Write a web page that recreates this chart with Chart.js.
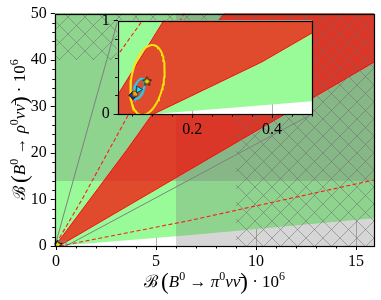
<!DOCTYPE html>
<html><head><meta charset="utf-8">
<script src="https://cdn.jsdelivr.net/npm/chart.js@4.4.1/dist/chart.umd.min.js"></script>
<style>
html,body{margin:0;padding:0;background:#fff;}
#wrap{position:relative;width:381px;height:300px;overflow:hidden;}
#main{position:absolute;left:0;top:0;}
#insetBox{position:absolute;left:95px;top:5px;width:230px;height:135px;}
#inset{position:absolute;left:0;top:0;}
</style></head><body>
<div id="wrap">
<canvas id="main" width="381" height="300"></canvas>
<div id="insetBox"><canvas id="inset" width="230" height="135"></canvas></div>
</div>
<script>
// ---------------- DATA ----------------
const mainXRange = [-0.06, 15.9];
const mainYRange = [0, 50];
const insetXRange = [0.0135, 0.5];
const insetYRange = [0, 1];

const mainXMajorStep = 5, mainYMajorStep = 10;
const insetXMajorStep = 0.2, insetYMajorStep = 1;
const mainXMinor = [1,2,3,4,6,7,8,9,11,12,13,14];
const mainYMinor = [2,4,6,8,12,14,16,18,22,24,26,28,32,34,36,38,42,44,46,48];
const insetXMinor = [0.05,0.1,0.15,0.25,0.3,0.35,0.45,0.5];
const insetYMinor = [0.2,0.4,0.6,0.8];

// experimental upper limits (x 10^6)
const newLimitPi = 6, newLimitRho = 14;   // grey shaded
const oldLimitPi = 9, oldLimitRho = 40;   // hatched

// lower edge of the allowed (green) region
const allowedEdgeX = [-1, 0.105, 0.5, 6.76, 16, 17];
const allowedEdgeY = [0, 0, 0.136, 2.36, 6.0, 6.4];

// red band: upper and lower edges
const bandUpperX = [0, 0.0135, 0.1285, 3.53, 8.40, 8.73];
const bandUpperY = [0.11, 0.204, 1.0, 20.6, 50, 52];
const bandLowerX = [0.1035, 0.194, 0.374, 0.5, 6.76, 16, 17];
const bandLowerY = [0, 0.186, 0.557, 0.868, 16.6, 39.8, 42.3];

// dashed red curves
const dashUpperX = [0, 0.0735, 1.28, 3.6, 6.4, 6.7];
const dashUpperY = [0.55, 0.99, 9.86, 28.1, 50, 52.3];
const dashLowerX = [0.2, 6.7, 16, 17];
const dashLowerY = [0, 5.5, 14.3, 15.25];

// ellipses (centre, half extents, correlation)
const ellipseCX = [0.088, 0.0667];
const ellipseCY = [0.364, 0.271];
const ellipseHX = [0.043, 0.0139];
const ellipseHY = [0.375, 0.108];
const ellipseRho = [0.29, 0.5];
const ellipseColor = ['#fbe50c', '#22cdee'];

// markers
const markerX = [0.052, 0.0575, 0.066, 0.0868];
const markerY = [0.200, 0.218, 0.262, 0.354];

// ---------------- HELPERS ----------------
const zip = (xs, ys) => xs.map((x, i) => ({x, y: ys[i]}));
const TOP = 55, RIGHT = 17, LEFT = -1, BOT = -1;

function ellipsePts(i, n = 90) {
  const pts = []; const s = Math.sqrt(1 - ellipseRho[i] * ellipseRho[i]);
  for (let k = 0; k <= n; k++) {
    const t = 2 * Math.PI * k / n;
    pts.push({x: ellipseCX[i] + ellipseHX[i] * Math.cos(t),
              y: ellipseCY[i] + ellipseHY[i] * (ellipseRho[i] * Math.cos(t) + s * Math.sin(t))});
  }
  return pts;
}

function makeHatch(ctx, p, color) {
  const c = document.createElement('canvas'); c.width = p; c.height = p;
  const g = c.getContext('2d'); g.strokeStyle = color; g.lineWidth = 1;
  g.beginPath(); g.moveTo(0, 0); g.lineTo(p, p); g.moveTo(0, p); g.lineTo(p, 0); g.stroke();
  return ctx.createPattern(c, 'repeat');
}

function makeStar(r, fill) {
  const sz = Math.ceil(2 * r + 3); const c = document.createElement('canvas'); c.width = sz; c.height = sz;
  const g = c.getContext('2d'); const cx = sz / 2, cy = sz / 2 + 0.5;
  g.beginPath();
  for (let k = 0; k < 10; k++) {
    const rr = k % 2 === 0 ? r : r * 0.45; const a = -Math.PI / 2 + k * Math.PI / 5;
    const px = cx + rr * Math.cos(a), py = cy + rr * Math.sin(a);
    k === 0 ? g.moveTo(px, py) : g.lineTo(px, py);
  }
  g.closePath(); g.fillStyle = fill; g.fill(); g.lineWidth = 0.9; g.strokeStyle = '#000'; g.stroke();
  return c;
}

const SERIF = "'Liberation Serif','DejaVu Serif',serif";
function shape(pts, bg, extra) {
  return Object.assign({data: pts, fill: 'shape', backgroundColor: bg, borderColor: 'rgba(0,0,0,0)',
    borderWidth: 0, pointRadius: 0, pointHoverRadius: 0, showLine: true, tension: 0}, extra || {});
}
function lineDs(pts, color, width, dash) {
  return {data: pts, fill: false, borderColor: color, borderWidth: width, borderDash: dash || [],
    pointRadius: 0, pointHoverRadius: 0, showLine: true, tension: 0, backgroundColor: 'rgba(0,0,0,0)'};
}
function markerDs(x, y, style, r, bg, border, rot) {
  return {data: [{x, y}], showLine: false, pointStyle: style, pointRadius: r, pointHoverRadius: r,
    pointRotation: rot || 0, backgroundColor: bg, borderColor: border, pointBorderWidth: 1, borderWidth: 1};
}

function buildLayers(ctx, isMain) {
  const hatch = makeHatch(ctx, 17, 'rgba(105,105,105,0.5)');
  const L = [];
  // allowed region
  L.push(shape(zip(allowedEdgeX, allowedEdgeY).concat([{x: RIGHT, y: TOP}, {x: LEFT, y: TOP}]), '#98fb98'));
  if (isMain) {
    L.push(shape([{x: LEFT, y: newLimitRho}, {x: RIGHT, y: newLimitRho}, {x: RIGHT, y: TOP}, {x: LEFT, y: TOP}], 'rgba(120,120,120,0.3)'));
    L.push(shape([{x: newLimitPi, y: BOT}, {x: RIGHT, y: BOT}, {x: RIGHT, y: TOP}, {x: newLimitPi, y: TOP}], 'rgba(120,120,120,0.3)'));
  }
  // red band
  const band = [{x: bandUpperX[0], y: -0.5}].concat(zip(bandUpperX, bandUpperY), [{x: RIGHT, y: 52}],
    zip(bandLowerX, bandLowerY).reverse(), [{x: bandLowerX[0], y: -0.5}]);
  L.push(shape(band, 'rgba(255,0,0,0.7)', {borderColor: 'rgba(255,0,0,0.9)', borderWidth: 1}));
  if (isMain) {
    L.push(shape([{x: LEFT, y: oldLimitRho}, {x: oldLimitPi, y: oldLimitRho}, {x: oldLimitPi, y: BOT},
      {x: RIGHT, y: BOT}, {x: RIGHT, y: TOP}, {x: LEFT, y: TOP}], hatch));
  }
  L.push(lineDs(zip(dashUpperX, dashUpperY), '#ff1a1a', 1.1, [4, 2.5]));
  if (isMain) {
    L.push(lineDs(zip(dashLowerX, dashLowerY), '#ff1a1a', 1.1, [4, 2.5]));
    L.push(lineDs([{x: insetXRange[0], y: insetYRange[0]}, {x: insetXRange[1], y: insetYRange[0]},
      {x: insetXRange[1], y: insetYRange[1]}, {x: insetXRange[0], y: insetYRange[1]}, {x: insetXRange[0], y: insetYRange[0]}], '#808080', 1));
    L.push(Object.assign(lineDs([], '#808080', 1), {label: 'conn1'}));
    L.push(Object.assign(lineDs([], '#808080', 1), {label: 'conn2'}));
  }
  L.push(lineDs(ellipsePts(0), ellipseColor[0], 2));
  L.push(lineDs(ellipsePts(1), ellipseColor[1], 2));
  L.push(markerDs(markerX[0], markerY[0], 'rectRot', 4, '#1a35c8', '#000'));
  L.push(markerDs(markerX[1], markerY[1], 'rect', 3.5, '#f5a21c', '#6a4a00'));
  L.push(markerDs(markerX[2], markerY[2], 'triangle', 4, '#1fe3f5', '#0b3d66', 90));
  L.push(markerDs(markerX[3], markerY[3], makeStar(4.6, '#f2e21b'), 5, '#f2e21b', '#000'));
  L.forEach((d, i) => { d.order = L.length - i; d.clip = 0; });
  return L;
}

function drawRich(ctx, segs, cx, cy, rot) {
  ctx.save(); ctx.translate(cx, cy); ctx.rotate(rot);
  const fontOf = s => `${s.i ? 'italic ' : ''}${s.s || 17}px ${s.f || SERIF}`;
  let total = 0;
  for (const s of segs) { ctx.font = fontOf(s); s.w = ctx.measureText(s.t).width; total += s.w; }
  let x = -total / 2; ctx.textAlign = 'left'; ctx.textBaseline = 'alphabetic'; ctx.fillStyle = '#000';
  for (const s of segs) { ctx.font = fontOf(s); ctx.fillText(s.t, x, 6 + (s.dy || 0)); x += s.w; }
  ctx.restore();
}
function titleSegs(particle) {
  return [{t: '\u212C', f: "'DejaVu Serif',serif", s: 17}, {t: '\u2009'}, {t: '(', s: 23, dy: 1.5},
    {t: 'B', i: true}, {t: '0', s: 12, dy: -7.5}, {t: ' \u2192 '}, {t: particle, i: true}, {t: '0', s: 12, dy: -7.5},
    {t: '\u03BD\u03BD\u0304', i: true}, {t: ')', s: 23, dy: 1.5}, {t: ' \u00B7 10'}, {t: '6', s: 12, dy: -7.5}];
}

const decor = {
  id: 'decor',
  beforeDraw(chart, args, o) {
    if (o.whiteBg) { const a = chart.chartArea, c = chart.ctx; c.save(); c.fillStyle = '#fff';
      c.fillRect(a.left, a.top, a.right - a.left, a.bottom - a.top); c.restore(); }
  },
  afterDraw(chart, args, o) {
    const c = chart.ctx, a = chart.chartArea, sx = chart.scales.x, sy = chart.scales.y;
    c.save(); c.strokeStyle = '#000'; c.lineWidth = 1; c.beginPath();
    for (const v of o.minorX) { const p = Math.round(sx.getPixelForValue(v)) + 0.5; c.moveTo(p, a.bottom); c.lineTo(p, a.bottom + o.minorLen); }
    for (const v of o.minorY) { const p = Math.round(sy.getPixelForValue(v)) + 0.5; c.moveTo(a.left, p); c.lineTo(a.left - o.minorLen, p); }
    c.stroke();
    c.lineWidth = 1.2;
    c.strokeRect(Math.round(a.left) + 0.5, Math.round(a.top) + 0.5, Math.round(a.right) - Math.round(a.left), Math.round(a.bottom) - Math.round(a.top));
    if (o.titles) {
      drawRich(c, titleSegs('\u03C0'), (a.left + a.right) / 2, o.xTitleY, 0);
      drawRich(c, titleSegs('\u03C1'), o.yTitleX, (a.top + a.bottom) / 2, -Math.PI / 2);
    }
    c.restore();
  }
};

function axisOpts(range, step, fitFn, isX) {
  return {type: 'linear', min: range[0], max: range[1], z: 1, afterFit: fitFn,
    ticks: {stepSize: step, includeBounds: false, color: '#000', autoSkip: false, maxRotation: 0,
      font: {family: SERIF, size: 16}, padding: isX ? 2 : 4,
      callback: v => String(Math.round(v * 1000) / 1000)},
    grid: {color: '#b0b0b0', lineWidth: 1, tickColor: '#000', tickLength: 4, drawTicks: true},
    border: {display: false}};
}

// ---------------- CHARTS ----------------
const mainCtx = document.getElementById('main').getContext('2d');
const mainChart = new Chart(mainCtx, {
  type: 'line',
  data: {datasets: buildLayers(mainCtx, true)},
  options: {
    responsive: false, animation: false, devicePixelRatio: 1, events: [],
    layout: {padding: {left: 0, right: 7, top: 12.7, bottom: 0}},
    scales: {
      x: axisOpts(mainXRange, mainXMajorStep, s => { s.height = 54; }, true),
      y: axisOpts(mainYRange, mainYMajorStep, s => { s.width = 54.8; }, false)
    },
    plugins: {legend: {display: false}, tooltip: {enabled: false},
      decor: {minorX: mainXMinor, minorY: mainYMinor, minorLen: 2.5, titles: true, xTitleY: 281, yTitleX: 19}}
  },
  plugins: [decor]
});

const insetCtx = document.getElementById('inset').getContext('2d');
const insetChart = new Chart(insetCtx, {
  type: 'line',
  data: {datasets: buildLayers(insetCtx, false)},
  options: {
    responsive: false, animation: false, devicePixelRatio: 1, events: [],
    layout: {padding: {left: 0, right: 13, top: 15.7, bottom: 0}},
    scales: {
      x: axisOpts(insetXRange, insetXMajorStep, s => { s.height = 26; }, true),
      y: axisOpts(insetYRange, insetYMajorStep, s => { s.width = 22.7; }, false)
    },
    plugins: {legend: {display: false}, tooltip: {enabled: false},
      decor: {minorX: insetXMinor, minorY: insetYMinor, minorLen: 2.5, whiteBg: true}}
  },
  plugins: [decor]
});

// connectors from the zoom rectangle to the inset corners
const box = document.getElementById('insetBox');
const ox = box.offsetLeft, oy = box.offsetTop, ia = insetChart.chartArea;
const mx = mainChart.scales.x, my = mainChart.scales.y;
const toMain = (px, py) => ({x: mx.getValueForPixel(px), y: my.getValueForPixel(py)});
mainChart.data.datasets.find(d => d.label === 'conn1').data =
  [{x: insetXRange[0], y: insetYRange[1]}, toMain(ox + ia.left, oy + ia.top)];
mainChart.data.datasets.find(d => d.label === 'conn2').data =
  [{x: insetXRange[1], y: insetYRange[0]}, toMain(ox + ia.right, oy + ia.bottom)];
mainChart.update('none');
</script>
</body></html>
